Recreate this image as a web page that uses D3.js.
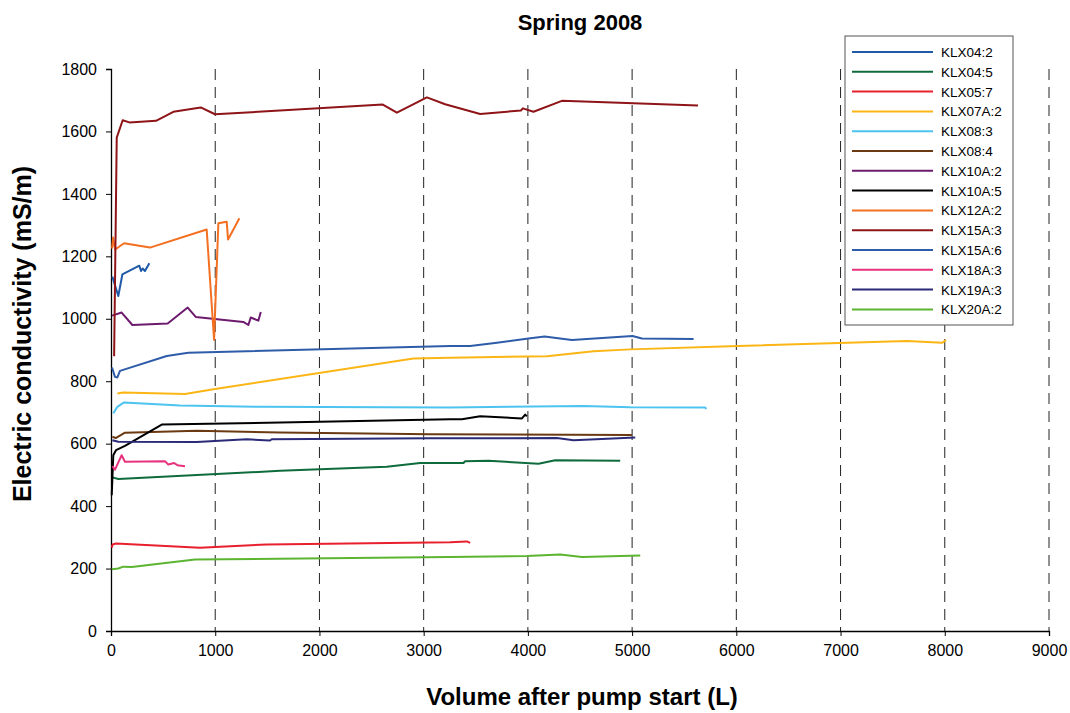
<!DOCTYPE html>
<html>
<head>
<meta charset="utf-8">
<script src="https://cdn.jsdelivr.net/npm/d3@7"></script>
<style>
  body { margin: 0; background: #fff; }
  svg { font-family: "Liberation Sans", Arial, sans-serif; }
</style>
</head>
<body>
<div id="chart"></div>
<script>
// series names and colours (legend order)
const seriesNames = ["KLX04:2", "KLX04:5", "KLX05:7", "KLX07A:2", "KLX08:3", "KLX08:4", "KLX10A:2",
  "KLX10A:5", "KLX12A:2", "KLX15A:3", "KLX15A:6", "KLX18A:3", "KLX19A:3", "KLX20A:2"];
const seriesColors = ["#1f5aa8", "#0e6b3b", "#e8202e", "#fbb616", "#4cc4ef", "#6b3a12", "#6d1b6e",
  "#000000", "#f36f21", "#8e1418", "#2e5ca8", "#e8327e", "#2b2a78", "#5cb531"];

// [volume L, conductivity mS/m]
const klx04_2 = [[13,1135],[70,1073],[109,1142],[272,1170],[288,1153],[304,1161],[326,1153],[368,1178]];
const klx04_5 = [[13,492],[70,487],[1622,513],[2646,526],[2966,538],[3382,538],[3398,544],[3622,545],[4102,536],[4262,547],[4886,545]];
const klx05_7 = [[7,267],[16,277],[48,280],[854,267],[1494,277],[3254,284],[3415,287],[3446,282]];
const klx07a_2 = [[61,761],[118,764],[710,759],[998,775],[2902,873],[3254,875],[4183,880],[4630,896],[4982,902],[5942,912],[7638,929],[7974,923],[8013,932]];
const klx08_3 = [[22,697],[61,718],[125,732],[662,722],[1430,718],[3254,716],[4534,721],[4982,717],[5702,716],[5712,711]];
const klx08_4 = [[13,622],[45,618],[134,635],[822,641],[1622,636],[3062,630],[4998,628]];
const klx10a_2 = [[10,1010],[102,1020],[205,980],[544,985],[736,1036],[813,1006],[1270,990],[1318,980],[1341,1004],[1414,994],[1437,1022]];
const klx10a_5 = [[7,435],[22,563],[48,579],[134,593],[487,661],[2006,670],[3254,678],[3367,678],[3542,688],[3943,681],[3974,693],[3990,688]];
const klx12a_2 = [[10,1225],[20,1260],[40,1222],[125,1242],[374,1228],[918,1286],[989,932],[1030,1306],[1110,1311],[1123,1254],[1232,1322]];
const klx15a_3 = [[30,880],[55,1580],[112,1636],[176,1629],[432,1634],[598,1663],[861,1677],[998,1655],[2608,1686],[2743,1660],[3031,1709],[3206,1687],[3542,1656],[3933,1667],[3952,1674],[4054,1663],[4326,1698],[5632,1683]];
const klx15a_6 = [[10,844],[38,814],[61,812],[86,833],[535,881],[742,891],[3254,913],[3446,913],[3703,923],[4006,937],[4160,943],[4422,932],[5004,945],[5094,937],[5590,935]];
const klx18a_3 = [[13,528],[38,517],[102,563],[134,542],[518,544],[550,533],[605,538],[637,531],[710,528]];
const klx19a_3 = [[13,611],[70,606],[822,605],[1302,614],[1526,610],[1542,614],[3062,617],[4278,618],[4438,611],[5030,620]];
const klx20a_2 = [[7,198],[70,200],[118,206],[199,205],[806,229],[3254,237],[3990,240],[4310,245],[4518,237],[5078,242]];

const seriesData = [klx04_2, klx04_5, klx05_7, klx07a_2, klx08_3, klx08_4, klx10a_2,
  klx10a_5, klx12a_2, klx15a_3, klx15a_6, klx18a_3, klx19a_3, klx20a_2];

const xTicks = [0, 1000, 2000, 3000, 4000, 5000, 6000, 7000, 8000, 9000];
const yTicks = [0, 200, 400, 600, 800, 1000, 1200, 1400, 1600, 1800];

const width = 1070, height = 713;
const margin = {top: 69, right: 21, bottom: 82, left: 111};

const svg = d3.select("#chart").append("svg")
    .attr("width", width)
    .attr("height", height);

const x = d3.scaleLinear().domain([0, 9000]).range([margin.left, width - margin.right]);
const y = d3.scaleLinear().domain([0, 1800]).range([height - margin.bottom, margin.top]);

// dashed vertical gridlines
svg.append("g")
    .selectAll("line")
    .data(xTicks.slice(1))
    .enter().append("line")
    .attr("x1", d => x(d)).attr("x2", d => x(d))
    .attr("y1", y(1800)).attr("y2", y(0))
    .attr("stroke", "#222")
    .attr("stroke-width", 1)
    .attr("stroke-dasharray", "11,7");

// axes
const xAxis = svg.append("g")
    .attr("transform", `translate(0,${y(0)})`)
    .call(d3.axisBottom(x).tickValues(xTicks).tickSize(5).tickPadding(9).tickFormat(d3.format("d")));
const yAxis = svg.append("g")
    .attr("transform", `translate(${x(0)},0)`)
    .call(d3.axisLeft(y).tickValues(yTicks).tickSize(5).tickPadding(9).tickFormat(d3.format("d")));

[xAxis, yAxis].forEach(a => {
  a.select(".domain").attr("stroke", "#000").attr("stroke-width", 1.3);
  a.selectAll(".tick line").attr("stroke", "#000");
  a.selectAll(".tick text")
      .attr("fill", "#000")
      .style("font-size", "16px")
      .style("font-family", "'Liberation Sans', Arial, sans-serif");
});

// lines
const line = d3.line().x(d => x(d[0])).y(d => y(d[1]));
svg.append("g")
    .selectAll("path")
    .data(seriesData)
    .enter().append("path")
    .attr("d", line)
    .attr("fill", "none")
    .attr("stroke", (d, i) => seriesColors[i])
    .attr("stroke-width", 2)
    .attr("stroke-linejoin", "round");

// title and axis labels
svg.append("text")
    .attr("x", 580).attr("y", 30)
    .attr("text-anchor", "middle")
    .style("font-size", "22px").style("font-weight", "bold")
    .text("Spring 2008");

svg.append("text")
    .attr("x", 582).attr("y", 705)
    .attr("text-anchor", "middle")
    .style("font-size", "24px").style("font-weight", "bold")
    .text("Volume after pump start (L)");

svg.append("text")
    .attr("transform", "translate(31,334) rotate(-90)")
    .attr("text-anchor", "middle")
    .style("font-size", "25px").style("font-weight", "bold")
    .text("Electric conductivity (mS/m)");

// legend
const legend = svg.append("g").attr("transform", "translate(845,36)");
legend.append("rect")
    .attr("width", 168).attr("height", 289)
    .attr("fill", "#fff")
    .attr("stroke", "#555").attr("stroke-width", 1);

const items = legend.selectAll("g.item")
    .data(seriesNames)
    .enter().append("g")
    .attr("class", "item")
    .attr("transform", (d, i) => `translate(0,${16 + i * 19.8})`);
items.append("line")
    .attr("x1", 7).attr("x2", 88)
    .attr("stroke", (d, i) => seriesColors[i])
    .attr("stroke-width", 2);
items.append("text")
    .attr("x", 96).attr("y", 5)
    .style("font-size", "13.5px")
    .text(d => d);
</script>
</body>
</html>
